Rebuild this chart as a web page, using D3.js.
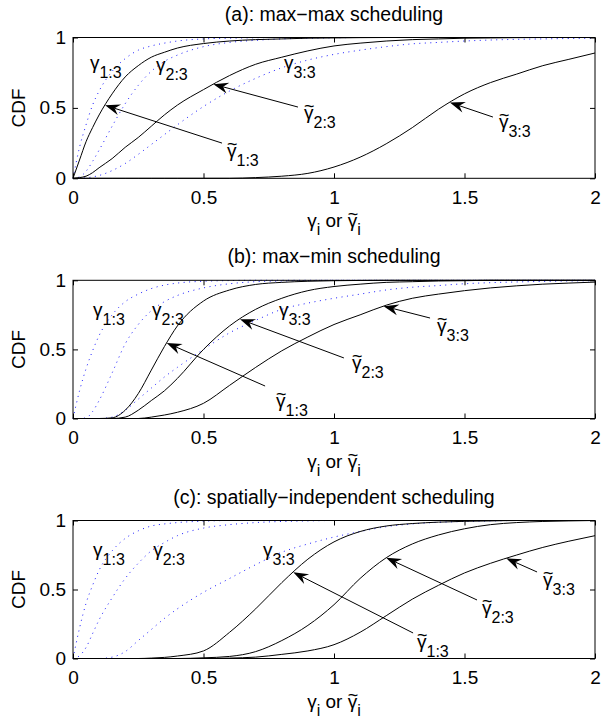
<!DOCTYPE html>
<html lang="en">
<head>
<meta charset="UTF-8">
<title>CDF scheduling</title>
<script src="https://cdn.jsdelivr.net/npm/d3@7/dist/d3.min.js"></script>
<style>
  body { margin: 0; background: #fff; }
  text { font-family: "Liberation Sans", Arial, Helvetica, sans-serif; fill: #000; }
</style>
</head>
<body>
<script>
// x positions shared by every curve
var xGrid = [0, 0.025, 0.05, 0.075, 0.1, 0.15, 0.2, 0.25, 0.3, 0.35, 0.4, 0.5, 0.6, 0.7,
  0.8, 0.9, 1.0, 1.1, 1.2, 1.3, 1.4, 1.5, 1.6, 1.7, 1.8, 1.9, 2.0];

// (a) max-max : dotted = gamma, solid = gamma tilde
var aDot1 = [0, .22, .38, .52, .62, .76, .85, .91, .94, .96, .975, .99, .995, .998, 1, 1, 1, 1, 1, 1, 1, 1, 1, 1, 1, 1, 1];
var aDot2 = [0, .01, .05, .12, .2, .37, .53, .66, .76, .83, .875, .935, .965, .98, .99, .995, .998, 1, 1, 1, 1, 1, 1, 1, 1, 1, 1];
var aDot3 = [0, 0, .003, .01, .02, .055, .105, .17, .24, .31, .38, .51, .62, .71, .785, .84, .88, .91, .935, .955, .965, .975, .982, .987, .99, .993, .995];
var aSol1 = [0, .13, .26, .36, .45, .6, .72, .8, .86, .895, .925, .957, .975, .985, .99, .995, .997, .999, 1, 1, 1, 1, 1, 1, 1, 1, 1];
var aSol2 = [0, .005, .015, .04, .075, .14, .22, .29, .37, .45, .52, .63, .73, .81, .86, .905, .94, .96, .975, .985, .99, .995, .997, .999, 1, 1, 1];
var aSol3 = [0, 0, 0, 0, 0, 0, 0, 0, 0, 0, 0, 0, 0, .005, .015, .035, .08, .15, .245, .36, .49, .6, .68, .74, .8, .845, .89];

// (b) max-min
var bDot1 = [0, .2, .36, .49, .6, .75, .845, .9, .94, .965, .98, .993, .998, 1, 1, 1, 1, 1, 1, 1, 1, 1, 1, 1, 1, 1, 1];
var bDot2 = [0, 0, .005, .05, .13, .33, .54, .68, .78, .845, .89, .945, .975, .99, .995, .998, 1, 1, 1, 1, 1, 1, 1, 1, 1, 1, 1];
var bDot3 = [0, 0, 0, 0, 0, .01, .06, .14, .22, .3, .37, .5, .62, .71, .79, .835, .87, .9, .93, .95, .962, .975, .983, .988, .992, .995, .997];
var bSol1 = [0, 0, 0, 0, 0, .005, .06, .18, .35, .52, .67, .85, .93, .97, .985, .993, .997, .999, 1, 1, 1, 1, 1, 1, 1, 1, 1];
var bSol2 = [0, 0, 0, 0, 0, 0, .01, .06, .13, .2, .29, .5, .67, .79, .87, .925, .955, .972, .985, .99, .995, .997, 1, 1, 1, 1, 1];
var bSol3 = [0, 0, 0, 0, 0, 0, 0, 0, .01, .025, .045, .11, .24, .37, .49, .59, .68, .75, .82, .87, .9, .925, .945, .96, .972, .98, .987];

// (c) spatially-independent
var cDot1 = [0, .22, .4, .53, .64, .78, .87, .925, .96, .975, .985, .995, 1, 1, 1, 1, 1, 1, 1, 1, 1, 1, 1, 1, 1, 1, 1];
var cDot2 = [0, .02, .08, .18, .28, .44, .58, .69, .78, .84, .89, .945, .97, .985, .993, .997, 1, 1, 1, 1, 1, 1, 1, 1, 1, 1, 1];
var cDot3 = [0, 0, 0, 0, 0, .01, .05, .13, .21, .29, .36, .48, .58, .68, .77, .83, .88, .92, .955, .975, .987, .993, .997, 1, 1, 1, 1];
var cSol1 = [0, 0, 0, 0, 0, 0, 0, 0, .003, .008, .018, .055, .19, .36, .55, .72, .845, .92, .96, .978, .988, .994, .997, 1, 1, 1, 1];
var cSol2 = [0, 0, 0, 0, 0, 0, 0, 0, 0, 0, 0, .005, .015, .05, .13, .24, .39, .58, .73, .83, .895, .94, .97, .985, .993, .997, 1];
var cSol3 = [0, 0, 0, 0, 0, 0, 0, 0, 0, 0, 0, 0, .003, .01, .03, .055, .1, .19, .31, .43, .53, .62, .69, .75, .805, .85, .89];

var subs = ["1:3", "2:3", "3:3"];
var xTicks = [0, 0.5, 1, 1.5, 2];
var yTicks = [0, 0.5, 1];

var titles = ["(a): max\u2212max scheduling", "(b): max\u2212min scheduling", "(c): spatially\u2212independent scheduling"];

// annotation placement, in data units: [x, y] of plain labels; tilde labels: label xy, arrow tail xy, tip x
var plainPos = [
  [[0.065, 0.773], [0.318, 0.762], [0.808, 0.776]],
  [[0.077, 0.744], [0.303, 0.744], [0.789, 0.744]],
  [[0.077, 0.743], [0.307, 0.743], [0.728, 0.743]]
];
var tildePos = [
  [{ lx: 0.59, ly: 0.151, tx: 0.571, ty: 0.25, tip: 0.123 },
   { lx: 0.885, ly: 0.42, tx: 0.862, ty: 0.506, tip: 0.538 },
   { lx: 1.632, ly: 0.354, tx: 1.609, ty: 0.435, tip: 1.444 }],
  [{ lx: 0.778, ly: 0.085, tx: 0.736, ty: 0.235, tip: 0.359 },
   { lx: 1.069, ly: 0.36, tx: 1.038, ty: 0.438, tip: 0.64 },
   { lx: 1.395, ly: 0.626, tx: 1.368, ty: 0.727, tip: 1.19 }],
  [{ lx: 1.318, ly: 0.076, tx: 1.303, ty: 0.185, tip: 0.844 },
   { lx: 1.567, ly: 0.322, tx: 1.548, ty: 0.424, tip: 1.2 },
   { lx: 1.801, ly: 0.525, tx: 1.778, ty: 0.627, tip: 1.66 }]
];

var panels = [
  { top: 37.5, bottom: 178.3, dots: [aDot1, aDot2, aDot3], sols: [aSol1, aSol2, aSol3] },
  { top: 280.3, bottom: 418.5, dots: [bDot1, bDot2, bDot3], sols: [bSol1, bSol2, bSol3] },
  { top: 520.5, bottom: 658.5, dots: [cDot1, cDot2, cDot3], sols: [cSol1, cSol2, cSol3] }
];

var W = 601, H = 721, left = 73, right = 595;
var FS = 19, SUB = 16;

var svg = d3.select('body').append('svg').attr('width', W).attr('height', H);

var x = d3.scaleLinear().domain([0, 2]).range([left, right]);
var fmt = d3.format('~g');

function interp(ys, xv) {
  var i = d3.bisectRight(xGrid, xv) - 1;
  if (i >= xGrid.length - 1) return ys[ys.length - 1];
  var t = (xv - xGrid[i]) / (xGrid[i + 1] - xGrid[i]);
  return ys[i] + t * (ys[i + 1] - ys[i]);
}

// tilde drawn over the character at index ci of a text node
function tildeOver(g, node, ci, baseY) {
  var e = node.getExtentOfChar(ci);
  g.append('text').attr('x', e.x + e.width / 2 + 0.5).attr('y', baseY - 7)
    .attr('text-anchor', 'middle').attr('font-size', 18).text('~');
}

// gamma with subscript, optional tilde on top
function gammaLabel(g, px, py, sub, tilde) {
  var t = g.append('text').attr('x', px).attr('y', py).attr('font-size', FS);
  t.append('tspan').text('\u03B3');
  t.append('tspan').attr('dy', 9).attr('font-size', SUB).text(sub);
  if (tilde) tildeOver(g, t.node(), 0, py);
}

function arrow(g, x1, y1, x2, y2) {
  var dx = x2 - x1, dy = y2 - y1, len = Math.sqrt(dx * dx + dy * dy);
  var ux = dx / len, uy = dy / len, nx = -uy, ny = ux;
  var L = 15, hw = 5.5, notch = 10;
  g.append('line').attr('x1', x1).attr('y1', y1)
    .attr('x2', x2 - ux * notch).attr('y2', y2 - uy * notch)
    .attr('stroke', '#000').attr('stroke-width', 1);
  var pts = [[x2, y2],
    [x2 - ux * L + nx * hw, y2 - uy * L + ny * hw],
    [x2 - ux * notch, y2 - uy * notch],
    [x2 - ux * L - nx * hw, y2 - uy * L - ny * hw]];
  g.append('path').attr('d', 'M' + pts.join('L') + 'Z').attr('fill', '#000');
}

panels.forEach(function (p, k) {
  var y = d3.scaleLinear().domain([0, 1]).range([p.bottom, p.top]);
  var g = svg.append('g');

  var line = d3.line().x(function (d, i) { return x(xGrid[i]); })
    .y(function (d) { return y(d); }).curve(d3.curveMonotoneX);

  p.dots.forEach(function (s) {
    g.append('path').attr('d', line(s)).attr('fill', 'none')
      .attr('stroke', '#0000ff').attr('stroke-width', 0.9).attr('stroke-dasharray', '1,4.5');
  });
  p.sols.forEach(function (s) {
    g.append('path').attr('d', line(s)).attr('fill', 'none')
      .attr('stroke', '#000').attr('stroke-width', 1);
  });

  // axes with inward ticks on all sides
  var ax = [
    [d3.axisBottom(x).tickValues(xTicks).tickFormat(fmt).tickSizeInner(-5).tickSizeOuter(0).tickPadding(12), p.bottom, 0],
    [d3.axisTop(x).tickValues(xTicks).tickSizeInner(-5).tickSizeOuter(0).tickFormat(''), p.top, 0],
    [d3.axisLeft(y).tickValues(yTicks).tickFormat(fmt).tickSizeInner(-5).tickSizeOuter(0).tickPadding(7), 0, left],
    [d3.axisRight(y).tickValues(yTicks).tickSizeInner(-5).tickSizeOuter(0).tickFormat(''), 0, right]
  ];
  ax.forEach(function (a) {
    var ag = g.append('g').attr('transform', 'translate(' + a[2] + ',' + a[1] + ')').call(a[0]);
    ag.select('.domain').remove();
    ag.selectAll('text').attr('font-size', FS).attr('font-family', null);
  });
  g.append('rect').attr('x', left).attr('y', p.top).attr('width', right - left)
    .attr('height', p.bottom - p.top).attr('fill', 'none').attr('stroke', '#000').attr('stroke-width', 1);

  // title
  g.append('text').attr('x', (left + right) / 2).attr('y', p.top - 17)
    .attr('text-anchor', 'middle').attr('font-size', 19.5).text(titles[k]);

  // y label
  g.append('text').attr('transform', 'translate(25,' + (p.top + p.bottom) / 2 + ') rotate(-90)')
    .attr('text-anchor', 'middle').attr('font-size', FS).text('CDF');

  // x label: gamma_i or gamma-tilde_i
  var xlY = p.bottom + 49;
  var xl = g.append('text').attr('x', (left + right) / 2).attr('y', xlY)
    .attr('text-anchor', 'middle').attr('font-size', FS);
  xl.append('tspan').text('\u03B3');
  xl.append('tspan').attr('dy', 8).attr('font-size', SUB).text('i');
  xl.append('tspan').attr('dy', -8).text(' or ');
  xl.append('tspan').text('\u03B3');
  xl.append('tspan').attr('dy', 8).attr('font-size', SUB).text('i');
  tildeOver(g, xl.node(), 6, xlY);

  // plain gamma labels
  plainPos[k].forEach(function (q, i) {
    gammaLabel(g, x(q[0]), y(q[1]), subs[i], false);
  });
  // tilde labels with arrows to the solid curves
  tildePos[k].forEach(function (q, i) {
    gammaLabel(g, x(q.lx), y(q.ly), subs[i], true);
    arrow(g, x(q.tx), y(q.ty), x(q.tip), y(interp(p.sols[i], q.tip)));
  });
});
</script>
</body>
</html>
